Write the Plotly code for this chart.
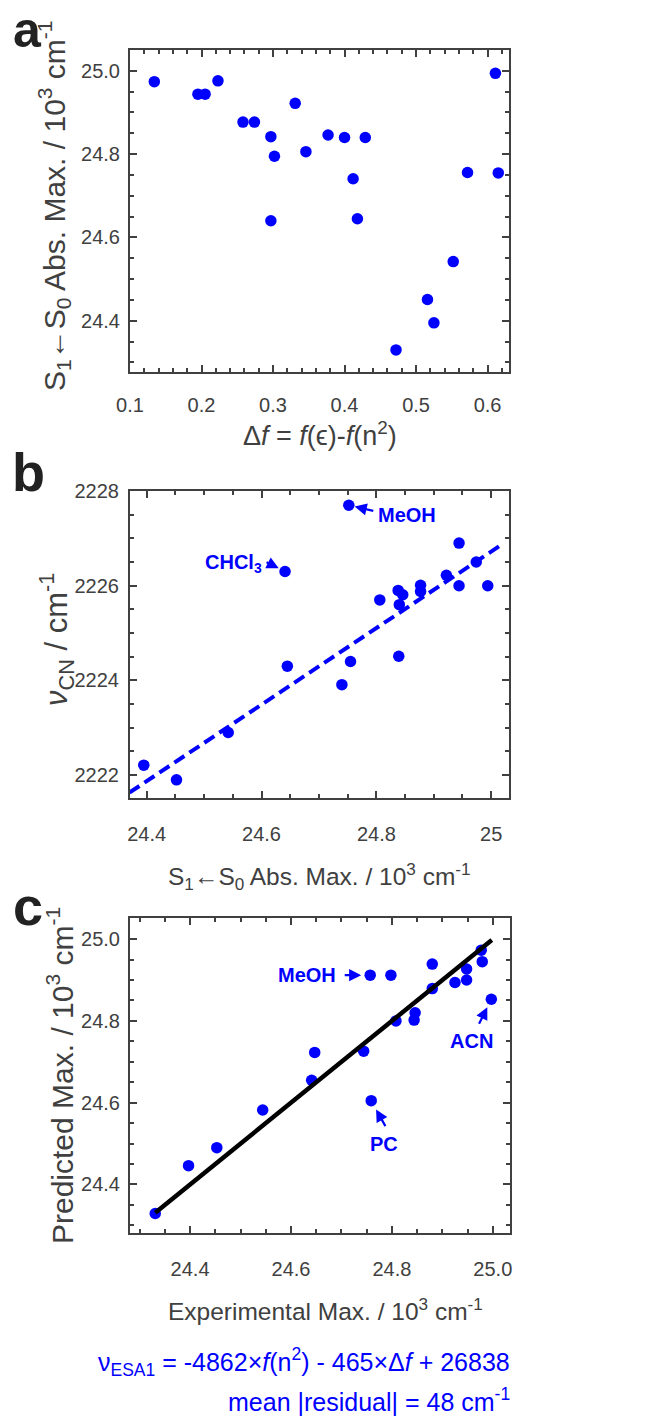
import plotly.graph_objects as go

# ---------------- data ----------------
# Panel a
a_delta_f = [0.134, 0.195, 0.205, 0.223, 0.258, 0.274, 0.297, 0.302, 0.297, 0.331, 0.346, 0.377,
             0.400, 0.429, 0.412, 0.418, 0.472, 0.516, 0.525, 0.552, 0.572, 0.611, 0.615]
a_abs_max = [24.974, 24.944, 24.944, 24.976, 24.877, 24.877, 24.842, 24.795, 24.640, 24.922, 24.806, 24.846,
             24.840, 24.840, 24.741, 24.645, 24.330, 24.451, 24.395, 24.542, 24.756, 24.994, 24.755]
a_xticks = [0.1, 0.2, 0.3, 0.4, 0.5, 0.6]
a_yticks = [24.4, 24.6, 24.8, 25.0]

# Panel b
b_names = ["MeOH", "CHCl3", "", "", "", "", "", "", "", "", "", "", "", "", "", "", "", "", "", ""]
b_abs_max = [24.752, 24.641, 24.944, 24.974, 24.922, 24.944, 24.994, 24.806, 24.838, 24.846,
             24.840, 24.877, 24.877, 24.839, 24.755, 24.740, 24.645, 24.542, 24.395, 24.452]
b_nu_cn = [2227.70, 2226.30, 2226.90, 2226.50, 2226.22, 2226.00, 2226.00, 2225.70, 2225.90, 2225.81,
           2225.60, 2226.01, 2225.88, 2224.51, 2224.40, 2223.91, 2224.30, 2222.90, 2222.21, 2221.90]
b_fit_x = [24.37, 25.016]
b_fit_y = [2221.63, 2226.85]
b_xticks = [24.4, 24.6, 24.8, 25.0]
b_xticklabels = ["24.4", "24.6", "24.8", "25"]
b_yticks = [2222, 2224, 2226, 2228]

# Panel c
c_names = ["MeOH", "", "", "", "", "", "", "", "", "ACN", "", "", "", "", "", "", "PC", "", "", "", ""]
c_experimental = [24.757, 24.798, 24.880, 24.880, 24.925, 24.948, 24.948, 24.977, 24.979, 24.997, 24.808,
                  24.844, 24.846, 24.647, 24.641, 24.744, 24.759, 24.544, 24.453, 24.397, 24.331]
c_predicted = [24.912, 24.912, 24.939, 24.879, 24.894, 24.927, 24.900, 24.973, 24.945, 24.853, 24.800,
               24.802, 24.820, 24.723, 24.655, 24.726, 24.605, 24.582, 24.490, 24.446, 24.329]
c_fit_x = [24.331, 24.998]
c_fit_y = [24.331, 24.998]
c_ticks = [24.4, 24.6, 24.8, 25.0]

# ---------------- style ----------------
W, H = 660, 1418
FONT = "Liberation Sans, Arial, sans-serif"
GREY = "#404040"
BLUE = "#0000FF"


def px(x):
    return x / W


def py(y):
    return 1 - y / H


fig = go.Figure()

marker = dict(color=BLUE, size=11.5, line=dict(width=0))

fig.add_trace(go.Scatter(x=a_delta_f, y=a_abs_max, mode="markers", marker=marker,
                         xaxis="x", yaxis="y", showlegend=False))
fig.add_trace(go.Scatter(x=b_abs_max, y=b_nu_cn, mode="markers", marker=marker,
                         xaxis="x2", yaxis="y2", showlegend=False))
fig.add_trace(go.Scatter(x=b_fit_x, y=b_fit_y, mode="lines",
                         line=dict(color=BLUE, width=4, dash="12px,6px"),
                         xaxis="x2", yaxis="y2", showlegend=False))
fig.add_trace(go.Scatter(x=c_experimental, y=c_predicted, mode="markers", marker=marker,
                         xaxis="x3", yaxis="y3", showlegend=False))
fig.add_trace(go.Scatter(x=c_fit_x, y=c_fit_y, mode="lines",
                         line=dict(color="black", width=4.5),
                         xaxis="x3", yaxis="y3", showlegend=False))


def axis(domain, rng, tickvals, ticktext, minor_dtick, minor_tick0, standoff, anchor):
    return dict(
        domain=domain, range=rng, anchor=anchor, automargin=False,
        tickmode="array", tickvals=tickvals, ticktext=ticktext,
        showline=True, linecolor=GREY, linewidth=2, mirror="allticks",
        ticks="inside", ticklen=7, tickwidth=1.5, tickcolor=GREY,
        showgrid=False, zeroline=False,
        tickfont=dict(family=FONT, size=20, color=GREY),
        ticklabelstandoff=standoff,
        minor=dict(ticks="inside", ticklen=4, tickwidth=1.5, tickcolor=GREY,
                   dtick=minor_dtick, tick0=minor_tick0, showgrid=False),
    )


xd = [px(130), px(509)]
fig.update_layout(
    width=W, height=H,
    margin=dict(l=0, r=0, t=0, b=0, autoexpand=False),
    paper_bgcolor="white", plot_bgcolor="white",
    xaxis=axis(xd, [0.1, 0.63], a_xticks, ["%.1f" % v for v in a_xticks], 0.02, 0.1, 14, "y"),
    yaxis=axis([py(372), py(50)], [24.277, 25.05], a_yticks, ["%.1f" % v for v in a_yticks], 0.05, 24.4, 4, "x"),
    xaxis2=axis(xd, [24.371, 25.031], b_xticks, b_xticklabels, 0.05, 24.4, 17, "y2"),
    yaxis2=axis([py(798.3), py(491)], [2221.51, 2228.0], b_yticks, [str(v) for v in b_yticks], 0.5, 2222, 5, "x2"),
    xaxis3=axis([px(130), px(510)], [24.281, 25.034], c_ticks, ["%.1f" % v for v in c_ticks], 0.05, 24.4, 17, "y3"),
    yaxis3=axis([py(1232.7), py(918.3)], [24.282, 25.051], c_ticks, ["%.1f" % v for v in c_ticks], 0.05, 24.4, 4, "x3"),
)

ann = []


def label(text, x, y, size, angle=0, color=GREY, xanchor="center", yanchor="middle"):
    ann.append(dict(text=text, x=px(x), y=py(y), xref="paper", yref="paper",
                    showarrow=False, textangle=angle, xanchor=xanchor, yanchor=yanchor,
                    font=dict(family=FONT, size=size, color=color)))


# panel letters
for letter, cx, cy, size, yanc in [("a", 27, 0, 50, "top"), ("b", 28, 472, 54, "middle"),
                                   ("c", 28, 906, 54, "middle")]:
    ann.append(dict(text="<b>%s</b>" % letter, x=px(cx), y=py(cy), xref="paper", yref="paper",
                    showarrow=False, xanchor="center", yanchor=yanc,
                    font=dict(family=FONT, size=size, color="#222222")))

absmax = "S<sub>1</sub>\u2190S<sub>0</sub> Abs. Max. / 10<sup>3</sup> cm<sup>-1</sup>"
# axis titles
label("\u0394<i>f</i> = <i>f</i>(\u03f5)-<i>f</i>(n<sup>2</sup>)", 319.5, 434, 27)
label(absmax, 54, 206, 30, angle=-90)
label(absmax, 319.5, 876, 24.5)
label("<i>\u03bd</i><sub>CN</sub> / cm<sup>-1</sup>", 56, 640, 31, angle=-90)
label("Experimental Max. / 10<sup>3</sup> cm<sup>-1</sup>", 325, 1309, 24.5)
label("Predicted Max. / 10<sup>3</sup> cm<sup>-1</sup>", 60, 1076, 30, angle=-90)

# formula text
label("\u03bd<sub>ESA1</sub> = -4862\u00d7<i>f</i>(n<sup>2</sup>) - 465\u00d7\u0394<i>f</i> + 26838",
      512, 1362, 25, color=BLUE, xanchor="right")
label("mean |residual| = 48 cm<sup>-1</sup>", 512, 1400, 25, color=BLUE, xanchor="right")


def point_note(xr, yr, xv, yv, text, ax, ay, standoff, tx, ty, xanchor):
    # arrow
    ann.append(dict(x=xv, y=yv, xref=xr, yref=yr, ax=ax, ay=ay, axref="pixel", ayref="pixel",
                    text="", showarrow=True, arrowhead=2, arrowsize=1.1, arrowwidth=2.2,
                    arrowcolor=BLUE, standoff=standoff))
    # text
    ann.append(dict(x=xv, y=yv, xref=xr, yref=yr, text="<b>%s</b>" % text, showarrow=False,
                    xshift=tx, yshift=ty, xanchor=xanchor, yanchor="middle",
                    font=dict(family=FONT, size=20, color=BLUE)))


i = b_names.index("MeOH")
point_note("x2", "y2", b_abs_max[i], b_nu_cn[i], "MeOH", 26, 6, 6, 27, -10, "left")
i = b_names.index("CHCl3")
point_note("x2", "y2", b_abs_max[i], b_nu_cn[i], "CHCl<sub>3</sub>", -20, -10, 7, -21, 8, "right")
i = c_names.index("MeOH")
point_note("x3", "y3", c_experimental[i], c_predicted[i], "MeOH", -27, 0, 9, -32, 0, "right")
i = c_names.index("ACN")
point_note("x3", "y3", c_experimental[i], c_predicted[i], "ACN", -13, 26, 9, -20, -42, "center")
i = c_names.index("PC")
point_note("x3", "y3", c_experimental[i], c_predicted[i], "PC", 15, 27, 10, 13, -43, "center")

fig.update_layout(annotations=ann)
fig.write_html("out.html")
